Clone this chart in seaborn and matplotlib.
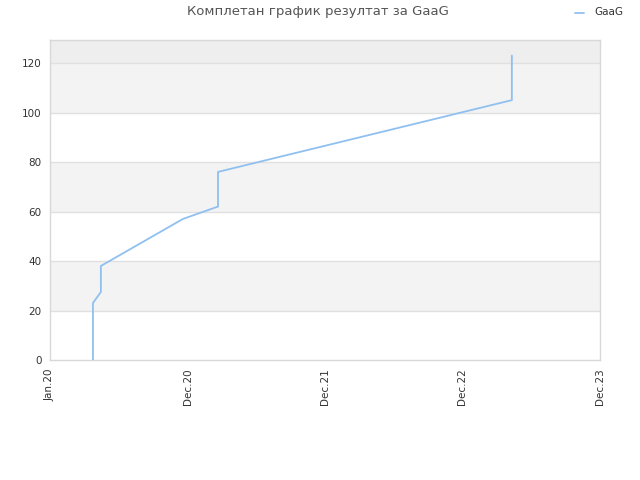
import pandas as pd
import seaborn as sns
import matplotlib.pyplot as plt
import matplotlib.dates as mdates

# Data
dates = ['2020-04-24', '2020-04-24', '2020-05-15', '2020-05-15', '2020-12-19',
         '2021-03-22', '2021-03-22', '2023-05-11', '2023-05-11']
points = [0, 23, 27.5, 38, 57, 62, 76, 105, 123]
tick_dates = ['2020-01-01', '2020-12-31', '2021-12-31', '2022-12-31', '2023-12-31']
tick_labels = ['Jan.20', 'Dec.20', 'Dec.21', 'Dec.22', 'Dec.23']
y_ticks = [0, 20, 40, 60, 80, 100, 120]

df = pd.DataFrame({'date': pd.to_datetime(dates), 'points': points, 'player': 'GaaG'})

sns.set_style('white')
plt.rcParams['font.family'] = ['DejaVu Sans']

fig = plt.figure(figsize=(6.4, 4.8), dpi=100)
ax = fig.add_axes([50 / 640, 120 / 480, 550 / 640, 320 / 480])

# Alternating bands
ymax = 129.3
for lo in range(0, 120, 40):
    ax.axhspan(lo + 20, lo + 40, color='#f3f3f3', zorder=0, lw=0)
ax.axhspan(120, ymax, color='#eeeeee', zorder=0, lw=0)
for y in y_ticks[1:]:
    ax.axhline(y, color='#e0e0e0', lw=1, zorder=1)

sns.lineplot(data=df, x='date', y='points', ax=ax, color='#90c0f0', lw=1.3,
             sort=False, estimator=None, legend=False, zorder=3)

ax.set_xlim(pd.Timestamp(tick_dates[0]), pd.Timestamp(tick_dates[-1]))
ax.set_ylim(0, ymax)
ax.set_xticks(pd.to_datetime(tick_dates))
ax.set_xticklabels(tick_labels, rotation=90, fontsize=7.5, color='#333333')
ax.set_yticks(y_ticks)
ax.set_yticklabels([str(v) for v in y_ticks], fontsize=7.5, color='#333333')
ax.tick_params(length=0, pad=6)
ax.set_xlabel('')
ax.set_ylabel('')
for s in ax.spines.values():
    s.set_color('#d8d8d8')
    s.set_linewidth(1)

fig.text(318 / 640, 1 - 12 / 480, 'Комплетан график резултат за GaaG', ha='center',
         va='center', fontsize=9.5, color='#555555')

# Legend entry in the top right corner
fig.lines.append(plt.Line2D([575 / 640, 584 / 640], [1 - 13 / 480, 1 - 13 / 480],
                            transform=fig.transFigure, color='#90c0f0', lw=1.3))
fig.text(594 / 640, 1 - 12 / 480, 'GaaG', ha='left', va='center', fontsize=7.5, color='#333333')

fig.savefig('out.png', dpi=100)
